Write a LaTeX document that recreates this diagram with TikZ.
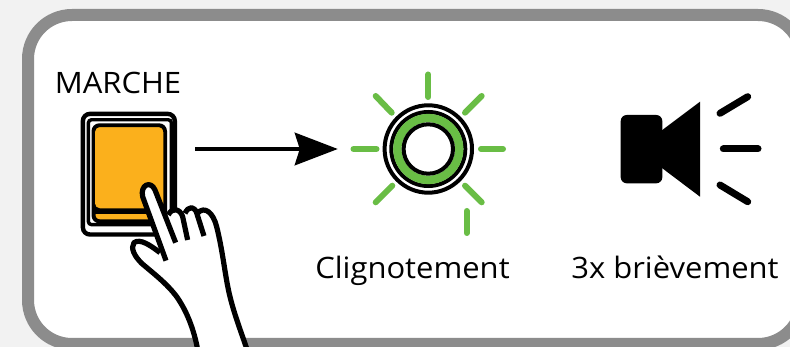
\documentclass[tikz,border=0pt]{standalone}
\usepackage{fontspec}
\setmainfont{Open Sans}
\usetikzlibrary{arrows.meta,calc}
\definecolor{bgc}{HTML}{F2F2F2}
\definecolor{framec}{HTML}{8C8C8C}
\definecolor{orangec}{HTML}{FBB01C}
\definecolor{greenc}{HTML}{69BD45}
\tikzset{
  ray/.style={greenc,line width=6pt,line cap=round},
  sray/.style={black,line width=7pt,line cap=round},
  lbl/.style={inner sep=0pt,font=\fontsize{29.5}{34}\selectfont,anchor=base,xscale=1.05},
  hand/.style={line width=5.2pt,black,line join=round},
}
\begin{document}
\begin{tikzpicture}[x=1pt,y=-1pt]
\useasboundingbox (0,0) rectangle (790,347);
\fill[bgc] (0,0) rectangle (790,347);
% frame
\begin{scope}
\clip (0,0) rectangle (790,347);
\draw[framec,line width=12pt,fill=white,rounded corners=44pt] (28,15) rectangle (802,344);
\end{scope}
% switch
\node[draw=none,minimum width=97pt,minimum height=125pt,inner sep=0pt] (btn) at (128.5,174.3) {};
\draw[line width=4.4pt,rounded corners=7pt] (82.9,113.9) rectangle (174.8,234.5);
\draw[line width=3.4pt,rounded corners=3pt] (88.4,119.8) rectangle (171.4,224.6);
\draw[line width=4pt,fill=orangec,rounded corners=6pt] (93.5,125.3) rectangle (165,221.3);
\fill[black] (95,196) rectangle (163.3,214);
\fill[orangec,rounded corners=5pt] (95,127.3) rectangle (163.3,208.3);
% arrow
\node[circle,minimum size=91pt,inner sep=0pt] (lamp) at (428.3,149) {};
\draw[line width=4pt,-{Stealth[length=43pt,width=32.5pt,inset=5pt]},shorten <=18pt,shorten >=44.8pt] (btn.east |- lamp.west) -- (lamp.west);
% lamp
\draw[black,line width=4pt] (lamp) circle[radius=43.7];
\draw[black,line width=4pt] (lamp) circle[radius=37];
\draw[greenc,line width=8.4pt] (lamp) circle[radius=30.9];
\draw[black,line width=4pt] (lamp) circle[radius=24.7];
\draw[ray] (428.3,74.5) -- (428.3,97);
\draw[ray] (481,149) -- (503,149);
\draw[ray] (353.5,149) -- (376.5,149);
\draw[ray] (375.7,96) -- (391.7,112.7);
\draw[ray] (481.7,96) -- (465,112.7);
\draw[ray] (375.7,202.3) -- (392.3,185.7);
\draw[ray] (481.7,202.3) -- (465,185.7);
\draw[ray] (466.7,211) -- (466.7,233);
% speaker
\fill[rounded corners=6pt] (620.7,115) rectangle (662.3,183.3);
\fill (661,131) -- (700,101.7) -- (700,196.7) -- (661,167.3) -- cycle;
\draw[sray] (720,113.3) -- (747.7,96.7);
\draw[sray] (723.3,149) -- (758,149);
\draw[sray] (720,185) -- (747.7,201.7);
% hand
\begin{scope}[shift={(60,100)},x=0.3333pt,y=-0.3333pt]
\fill[white] (415,760) .. controls (405,700) and (385,640) .. (350,590)
  .. controls (320,550) and (280,520) .. (245,490)
  .. controls (225,470) and (210,445) .. (222,428)
  .. controls (240,415) and (270,435) .. (300,458)
  -- (248,290) .. controls (240,255) and (272,240) .. (285,270)
  -- (320,340) .. controls (335,320) and (360,325) .. (372,345)
  .. controls (380,320) and (405,315) .. (412,340)
  .. controls (435,315) and (460,340) .. (470,380)
  .. controls (490,460) and (495,530) .. (510,590)
  .. controls (525,650) and (545,700) .. (565,760) -- cycle;
\draw[hand] (415,760) .. controls (405,700) and (385,640) .. (350,590)
  .. controls (320,550) and (280,520) .. (245,490)
  .. controls (225,470) and (210,445) .. (222,428)
  .. controls (240,415) and (270,435) .. (300,458);
\draw[hand,line cap=butt] (318,482) -- (248,290) .. controls (240,255) and (272,240) .. (285,270) -- (347,428);
\draw[hand,line cap=butt] (325,345) .. controls (335,322) and (360,325) .. (368,350) -- (383,420);
\draw[hand,line cap=butt] (375,340) .. controls (385,318) and (405,315) .. (412,345) -- (432,408);
\draw[hand] (412,340) .. controls (435,315) and (460,340) .. (470,380)
  .. controls (490,460) and (495,530) .. (510,590)
  .. controls (525,650) and (545,700) .. (565,760);
\end{scope}
% text
\node[lbl] (t1) at (118,94) {MARCHE};
\node[lbl] (t2) at (412.5,278.3) {Clignotement};
\node[lbl] (t3) at (675,278.3) {3x brièvement};
\end{tikzpicture}
\end{document}
